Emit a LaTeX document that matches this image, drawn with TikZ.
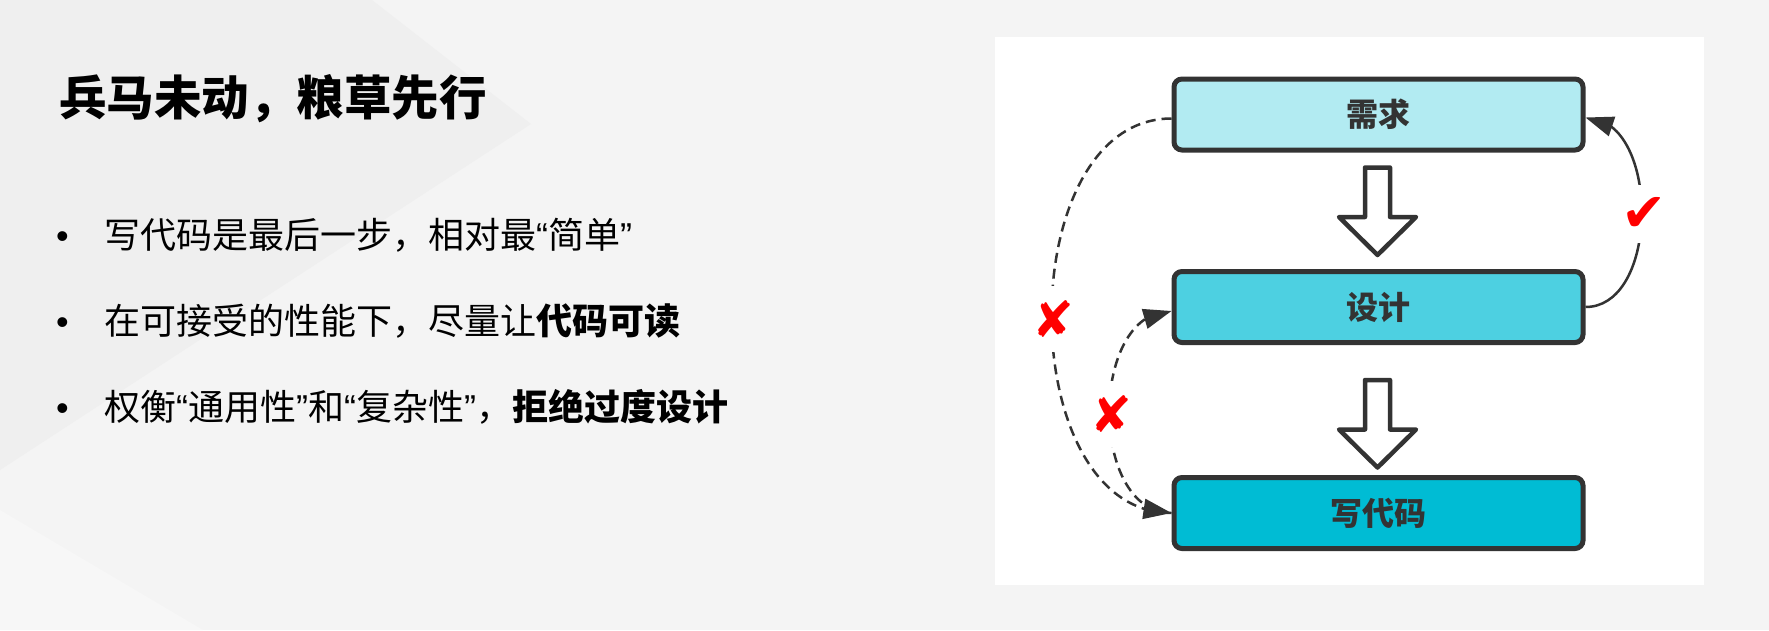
\documentclass[tikz,border=0pt]{standalone}
\usepackage{fontspec}
\newfontfamily\cjk{Noto Sans CJK SC}
\newfontfamily\latinq{Liberation Sans}
\newfontfamily\symf{DejaVu Sans}
\usetikzlibrary{arrows.meta,bending,calc}
\definecolor{bgbase}{HTML}{F4F4F4}
\definecolor{bgdark}{HTML}{EFEFEF}
\definecolor{bglight}{HTML}{F7F7F7}
\definecolor{ink}{HTML}{333333}
\definecolor{reqfill}{HTML}{B2EBF2}
\definecolor{desfill}{HTML}{4DD0E1}
\definecolor{codefill}{HTML}{00BCD4}
\definecolor{markred}{HTML}{FF0000}
\tikzset{
  stepbox/.style={rectangle, rounded corners=8pt, draw=ink, line width=5pt,
    minimum width=409pt, minimum height=71pt, inner sep=0pt,
    font=\cjk\bfseries\fontsize{32}{38}\selectfont, text=ink},
  bodytxt/.style={anchor=base west, inner sep=0pt, text=black,
    font=\cjk\fontsize{36}{44}\selectfont},
  dotmark/.style={anchor=base west, inner sep=0pt, text=black,
    font=\latinq\fontsize{36}{44}\selectfont},
  hollowarrow/.style={draw=ink, fill=white, line width=4.5pt, line join=round},
  dashline/.style={draw=ink, line width=2.5pt, dash pattern=on 10pt off 6pt},
  solidline/.style={draw=ink, line width=2.5pt},
  tip/.style={-{Triangle[length=28pt,width=20pt,flex]}},
  xmark/.style={fill=white, text=markred, inner xsep=3pt, inner ysep=15pt,
    font=\symf\fontsize{50}{54}\selectfont},
  vmark/.style={fill=white, text=markred, inner xsep=3pt, inner ysep=12pt,
    font=\symf\fontsize{54}{58}\selectfont},
  bigarrow/.pic={
    \draw[hollowarrow] (-12.5,0) -- (-12.5,49.5) -- (-38.5,49.5) -- (0,87.5)
      -- (38.5,49.5) -- (12.5,49.5) -- (12.5,0) -- cycle;
  }
}
\begin{document}
\begin{tikzpicture}[x=1pt,y=-1pt]
\useasboundingbox (0,0) rectangle (1769,630);
% background
\fill[bgbase] (0,0) rectangle (1769,630);
\fill[bgdark] (0,0) -- (372,0) -- (531,124) -- (0,470) -- cycle;
\fill[bglight] (0,510) -- (203,630) -- (0,630) -- cycle;
% white panel
\fill[white] (995,37) rectangle (1704,585);

% left text
\node[anchor=base west, inner sep=0pt, text=black,
  font=\cjk\bfseries\fontsize{47.5}{56}\selectfont] (title) at (59,115) {兵马未动，粮草先行};
\node[dotmark] (d1) at (56,248) {•};
\node[dotmark] (d2) at (56,334) {•};
\node[dotmark] (d3) at (56,420) {•};
\node[bodytxt] (l1) at (104,248) {写代码是最后一步，相对最{\latinq “}简单{\latinq ”}};
\node[bodytxt] (l2) at (104,334) {在可接受的性能下，尽量让{\bfseries 代码可读}};
\node[bodytxt] (l3) at (104,420) {权衡{\latinq “}通用性{\latinq ”}和{\latinq “}复杂性{\latinq ”}，{\bfseries 拒绝过度设计}};

% boxes
\node[stepbox, fill=reqfill] (req) at (1378.5,114.5) {需求};
\node[stepbox, fill=desfill] (des) at (1378.5,307) {设计};
\node[stepbox, fill=codefill] (code) at (1378.5,513) {写代码};

% hollow arrows
\pic at (1377.5,167.5) {bigarrow};
\pic at (1377.5,380) {bigarrow};

% curved connectors
\draw[dashline, tip] ($(req.west)+(0,4)$) .. controls +(-160,0) and +(-160,0) .. (code.west);
\draw[dashline, tip] (code.west) .. controls +(-83,0) and +(-83,0) .. ($(des.west)+(0,4)$);
\draw[solidline, tip] (des.east) .. controls +(75,0) and +(75,0) .. ($(req.east)+(0,3)$);

% marks
\node[xmark] (x1) at (1053,319) {✘};
\node[xmark] (x2) at (1111,414) {✘};
\node[vmark] (ok) at (1644,214) {✔};
\end{tikzpicture}
\end{document}
